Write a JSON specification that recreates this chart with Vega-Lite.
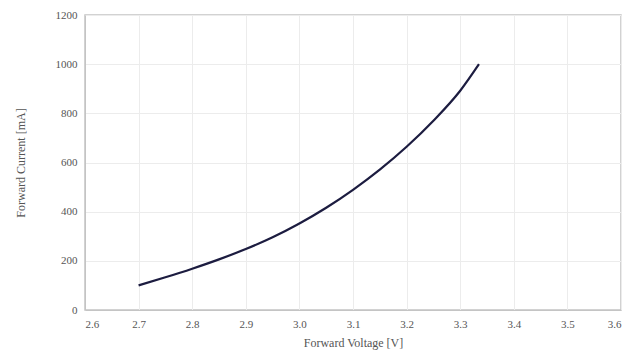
{
  "$schema": "https://vega.github.io/schema/vega-lite/v6.json",
  "autosize": {"type": "none"},
  "width": 536,
  "height": 295,
  "padding": {"left": 85, "top": 15, "right": 12, "bottom": 51},
  "background": "white",
  "config": {
    "view": {"stroke": "#c4c4c4", "strokeWidth": 1.5},
    "font": "Times New Roman, Liberation Serif, DejaVu Serif, serif"
  },
  "data": {
    "values": [
      {"v": 2.70, "i": 100},
      {"v": 2.75, "i": 133},
      {"v": 2.80, "i": 168},
      {"v": 2.85, "i": 206},
      {"v": 2.90, "i": 248},
      {"v": 2.95, "i": 296},
      {"v": 3.00, "i": 352},
      {"v": 3.05, "i": 416},
      {"v": 3.10, "i": 489},
      {"v": 3.15, "i": 571},
      {"v": 3.20, "i": 664},
      {"v": 3.25, "i": 770},
      {"v": 3.30, "i": 892},
      {"v": 3.335, "i": 1000}
    ]
  },
  "mark": {"type": "line", "color": "#1c1c40", "strokeWidth": 2.2, "interpolate": "monotone"},
  "encoding": {
    "x": {
      "field": "v",
      "type": "quantitative",
      "scale": {"domain": [2.6, 3.6], "nice": false, "zero": false},
      "axis": {
        "title": "Forward Voltage [V]",
        "values": [2.6, 2.7, 2.8, 2.9, 3.0, 3.1, 3.2, 3.3, 3.4, 3.5, 3.6],
        "format": ".1f",
        "labelFont": "Times New Roman, Liberation Serif, serif",
        "labelFontSize": 11,
        "labelColor": "#555555",
        "labelPadding": 8,
        "ticks": false,
        "domainColor": "#c4c4c4",
        "gridColor": "#ececec",
        "titleFont": "Times New Roman, Liberation Serif, serif",
        "titleFontSize": 12,
        "titleFontWeight": "normal",
        "titleColor": "#555555",
        "titlePadding": 8
      }
    },
    "y": {
      "field": "i",
      "type": "quantitative",
      "scale": {"domain": [0, 1200], "nice": false},
      "axis": {
        "title": "Forward Current [mA]",
        "values": [0, 200, 400, 600, 800, 1000, 1200],
        "format": "d",
        "labelFont": "Times New Roman, Liberation Serif, serif",
        "labelFontSize": 11,
        "labelColor": "#555555",
        "labelPadding": 8,
        "ticks": false,
        "domainColor": "#c4c4c4",
        "gridColor": "#ececec",
        "titleFont": "Times New Roman, Liberation Serif, serif",
        "titleFontSize": 12,
        "titleFontWeight": "normal",
        "titleColor": "#555555",
        "titlePadding": 28
      }
    }
  }
}
